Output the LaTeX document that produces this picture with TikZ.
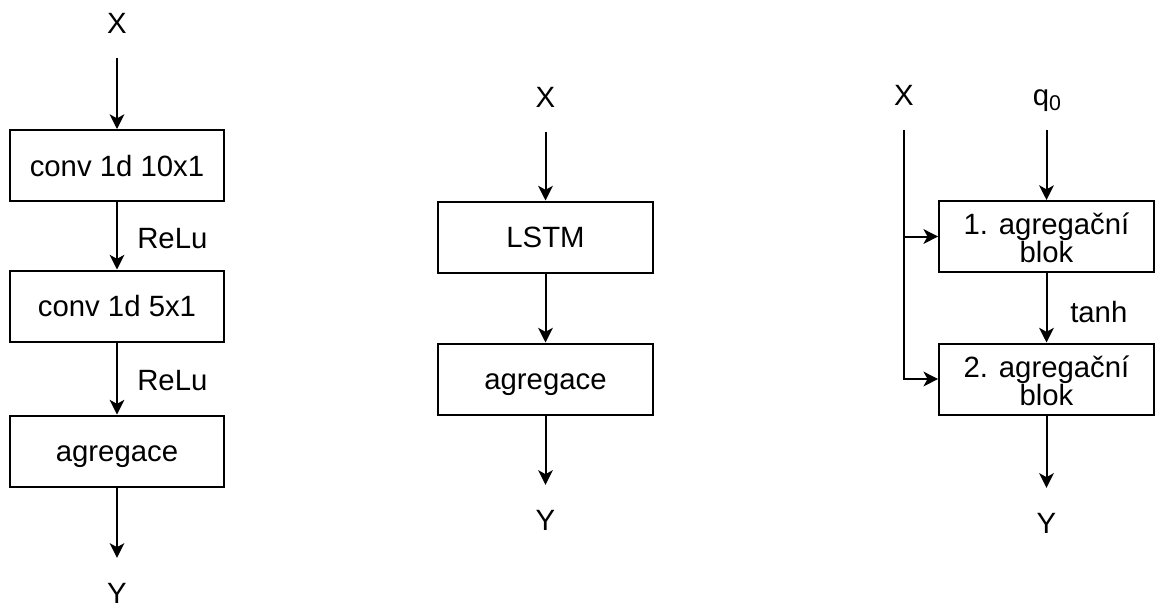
\documentclass[tikz,border=0pt]{standalone}
\usepackage{fontspec}
\setmainfont{Liberation Sans}
\usetikzlibrary{arrows.meta}
\begin{document}
\begin{tikzpicture}[x=0.75pt,y=-0.75pt,
  every node/.style={font=\fontsize{22}{21}\selectfont},
  blk/.style={draw, line width=1.5pt, minimum width=161pt, minimum height=53.25pt,
              inner sep=0pt, align=center, text height=15.75pt, text depth=0pt},
  blk2/.style={blk, text height=39pt, text depth=-9.75pt},
  io/.style={inner sep=0pt, outer sep=18.5pt, text height=15.75pt, text depth=0pt},
  tag/.style={inner sep=0pt, anchor=west},
  arr/.style={line width=1.5pt, -{Stealth[length=11pt,width=11pt,inset=3pt]}}
]
\useasboundingbox (0,0) rectangle (1156,608);

% convolutional branch
\node[io]  (xa) at (117,23)    {X};
\node[blk] (a1) at (117,165.5) {conv 1d 10x1};
\node[blk] (a2) at (117,306)   {conv 1d 5x1};
\node[blk] (a3) at (117,451)   {agregace};
\node[io]  (ya) at (117,593)   {Y};
\draw[arr] (xa) -- (a1);
\draw[arr] (a1) -- (a2);
\draw[arr] (a2) -- (a3);
\draw[arr] (a3) -- (ya);
\node[tag] (r1) at (137,239) {ReLu};
\node[tag] (r2) at (137,381) {ReLu};

% recurrent branch
\node[io]  (xb) at (545.5,97)  {X};
\node[blk] (b1) at (545.5,237) {LSTM};
\node[blk] (b2) at (545.5,379) {agregace};
\node[io]  (yb) at (545.5,520) {Y};
\draw[arr] (xb) -- (b1);
\draw[arr] (b1) -- (b2);
\draw[arr] (b2) -- (yb);

% attention branch
\node[io]  (xc) at (904,95)     {X};
\node[io]  (qc) at (1047,95)  {q\raisebox{-3.75pt}{\fontsize{16}{16}\selectfont 0}};
\node[blk2] (c1) at (1046.5,236.5) {1. agregační\\blok};
\node[blk2] (c2) at (1046.5,379)   {2. agregační\\blok};
\node[io]  (yc) at (1046.5,523)   {Y};
\draw[arr] (qc.south -| c1) -- (c1);
\draw[arr] (xc) |- (c2.west);
\draw[arr] (xc.south |- c1.west) -- (c1.west);
\draw[arr] (c1) -- (c2);
\draw[arr] (c2) -- (yc);
\node[tag] (th) at (1070,312) {tanh};
\end{tikzpicture}
\end{document}
